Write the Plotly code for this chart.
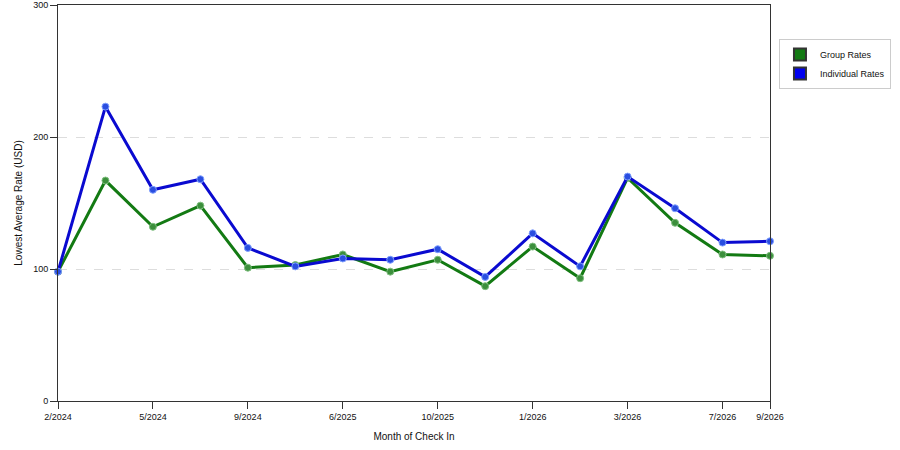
import plotly.graph_objects as go

months = ["2/2024", "3/2024", "5/2024", "7/2024", "9/2024", "3/2025", "6/2025", "8/2025",
          "10/2025", "11/2025", "1/2026", "2/2026", "3/2026", "5/2026", "7/2026", "9/2026"]
tick_months = ["2/2024", "5/2024", "9/2024", "6/2025", "10/2025", "1/2026", "3/2026", "7/2026", "9/2026"]
group_rates = [98, 167, 132, 148, 101, 103, 111, 98, 107, 87, 117, 93, 169, 135, 111, 110]
individual_rates = [98, 223, 160, 168, 116, 102, 108, 107, 115, 94, 127, 102, 170, 146, 120, 121]

GREEN = "#137a13"
BLUE = "#0a0ad0"
FONT = "Liberation Sans"

fig = go.Figure()
fig.add_trace(go.Scatter(
    x=months, y=group_rates, mode="lines+markers", showlegend=False,
    line=dict(color=GREEN, width=3),
    marker=dict(symbol="circle", size=7, color="#3c8f3c", line=dict(color="#7fbf7f", width=1)),
    cliponaxis=False, name="Group Rates"))
fig.add_trace(go.Scatter(
    x=months, y=individual_rates, mode="lines+markers", showlegend=False,
    line=dict(color=BLUE, width=3),
    marker=dict(symbol="circle", size=7, color="#2a4ee0", line=dict(color="#7f9fff", width=1)),
    cliponaxis=False, name="Individual Rates"))
# legend swatches
fig.add_trace(go.Scatter(x=[None], y=[None], mode="markers", name="Group Rates",
                         marker=dict(symbol="square", size=13, color=GREEN,
                                     line=dict(color="#333333", width=1))))
fig.add_trace(go.Scatter(x=[None], y=[None], mode="markers", name="Individual Rates",
                         marker=dict(symbol="square", size=13, color="#0000ee",
                                     line=dict(color="#333333", width=1))))

fig.update_layout(
    width=900, height=450,
    margin=dict(l=58, r=130, t=5, b=49, autoexpand=False),
    paper_bgcolor="white", plot_bgcolor="white",
    font=dict(family=FONT, size=10, color="#111111"),
    legend=dict(x=1.0126, y=0.914, xanchor="left", yanchor="top",
                bordercolor="#cccccc", borderwidth=1, bgcolor="white",
                font=dict(family=FONT, size=9, color="#111111"),
                itemsizing="constant", tracegroupgap=0),
    xaxis=dict(
        type="category", categoryorder="array", categoryarray=months,
        range=[0, len(months) - 1], automargin=False,
        tickmode="array", tickvals=tick_months, ticktext=tick_months,
        showgrid=False, showline=True, linecolor="#333333", linewidth=1, mirror=True,
        ticks="outside", ticklen=7, tickcolor="#333333",
        tickfont=dict(family=FONT, size=9),
        title=dict(text="Month of Check In", font=dict(family=FONT, size=10), standoff=12),
        zeroline=False),
    yaxis=dict(
        range=[0, 300], tickvals=[0, 100, 200, 300], automargin=False,
        showgrid=True, gridcolor="#dddddd", griddash="dash", gridwidth=1,
        showline=True, linecolor="#333333", linewidth=1, mirror=True,
        ticks="outside", ticklen=7, tickcolor="#333333",
        tickfont=dict(family=FONT, size=9),
        title=dict(text="Lowest Average Rate (USD)", font=dict(family=FONT, size=10), standoff=8),
        zeroline=False),
)

fig.write_html("out.html", config={"displayModeBar": False},
               post_script="document.body.style.margin='0';")
